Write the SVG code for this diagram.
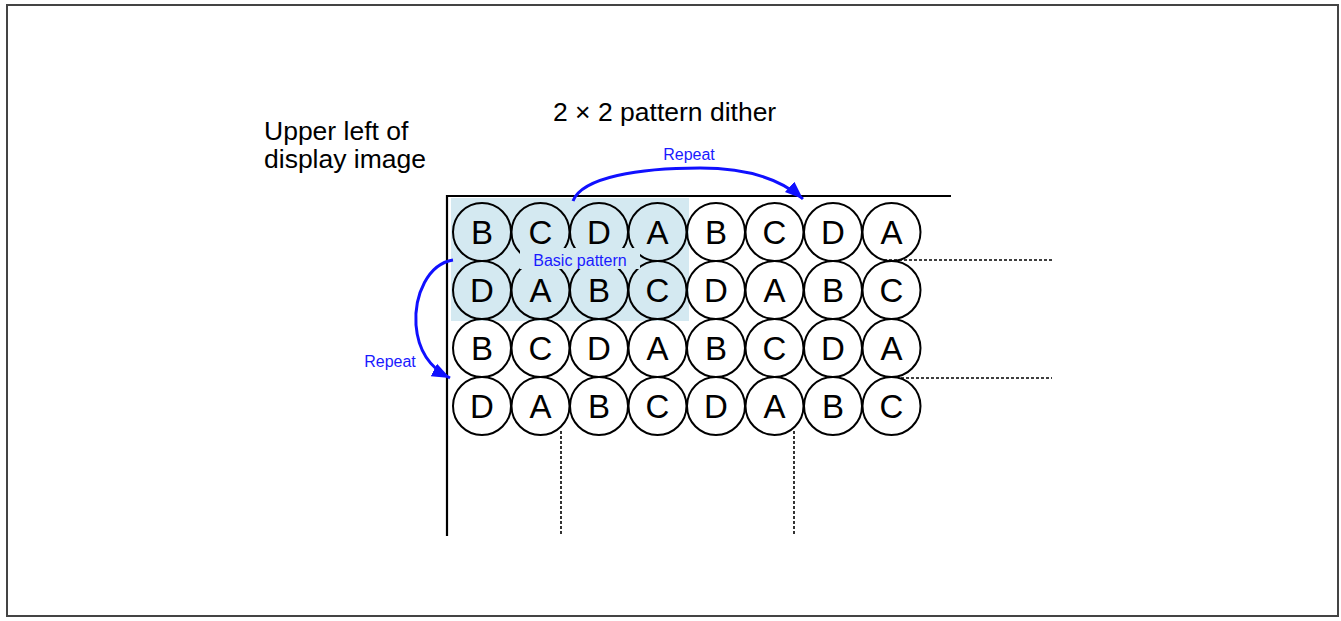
<svg xmlns="http://www.w3.org/2000/svg" width="1341" height="621" viewBox="0 0 1341 621">
<style>
  .lbl{font-family:"Liberation Sans",Arial,sans-serif;fill:#000}
  .big{font-size:26.5px}
  .cell circle{fill:none;stroke:#000;stroke-width:2}
  .cell text{font-family:"Liberation Sans",Arial,sans-serif;font-size:33px;text-anchor:middle;fill:#000}
  .blue{font-family:"Liberation Sans",Arial,sans-serif;font-size:16px;fill:#1a1aff;text-anchor:middle}
  .axis{stroke:#000;stroke-width:2.2;fill:none}
  .dash{stroke:#000;stroke-width:1.6;stroke-dasharray:3 2;fill:none}
  .arr{stroke:#1010ff;stroke-width:3;fill:none;marker-end:url(#ah)}
</style>
<defs>
  <marker id="ah" markerUnits="userSpaceOnUse" markerWidth="20" markerHeight="20" viewBox="0 0 20 20" refX="18" refY="10" orient="auto">
    <path d="M0,3 L18,10 L0,17 Z" fill="#1010ff"/>
  </marker>
</defs>
<rect x="7" y="5" width="1331" height="611" fill="#fff" stroke="#444" stroke-width="2"/>

<g id="title"><text class="lbl big" x="553" y="121">2 × 2 pattern dither</text></g>
<g id="upper-left-label"><text class="lbl big" x="264" y="140">Upper left of</text><text class="lbl big" x="264" y="168">display image</text></g>

<g id="basic-pattern-area"><rect x="451" y="198" width="238" height="123" fill="#d4e9f1"/></g>

<g id="grid" class="cell">
  <g id="r1">
    <circle cx="482" cy="232" r="29"/><text x="482" y="243.5">B</text>
    <circle cx="540.5" cy="232" r="29"/><text x="540.5" y="243.5">C</text>
    <circle cx="599" cy="232" r="29"/><text x="599" y="243.5">D</text>
    <circle cx="657.5" cy="232" r="29"/><text x="657.5" y="243.5">A</text>
    <circle cx="716" cy="232" r="29"/><text x="716" y="243.5">B</text>
    <circle cx="774.5" cy="232" r="29"/><text x="774.5" y="243.5">C</text>
    <circle cx="833" cy="232" r="29"/><text x="833" y="243.5">D</text>
    <circle cx="891.5" cy="232" r="29"/><text x="891.5" y="243.5">A</text>
  </g>
  <g id="r2">
    <circle cx="482" cy="290" r="29"/><text x="482" y="301.5">D</text>
    <circle cx="540.5" cy="290" r="29"/><text x="540.5" y="301.5">A</text>
    <circle cx="599" cy="290" r="29"/><text x="599" y="301.5">B</text>
    <circle cx="657.5" cy="290" r="29"/><text x="657.5" y="301.5">C</text>
    <circle cx="716" cy="290" r="29"/><text x="716" y="301.5">D</text>
    <circle cx="774.5" cy="290" r="29"/><text x="774.5" y="301.5">A</text>
    <circle cx="833" cy="290" r="29"/><text x="833" y="301.5">B</text>
    <circle cx="891.5" cy="290" r="29"/><text x="891.5" y="301.5">C</text>
  </g>
  <g id="r3">
    <circle cx="482" cy="348" r="29"/><text x="482" y="359.5">B</text>
    <circle cx="540.5" cy="348" r="29"/><text x="540.5" y="359.5">C</text>
    <circle cx="599" cy="348" r="29"/><text x="599" y="359.5">D</text>
    <circle cx="657.5" cy="348" r="29"/><text x="657.5" y="359.5">A</text>
    <circle cx="716" cy="348" r="29"/><text x="716" y="359.5">B</text>
    <circle cx="774.5" cy="348" r="29"/><text x="774.5" y="359.5">C</text>
    <circle cx="833" cy="348" r="29"/><text x="833" y="359.5">D</text>
    <circle cx="891.5" cy="348" r="29"/><text x="891.5" y="359.5">A</text>
  </g>
  <g id="r4">
    <circle cx="482" cy="406" r="29"/><text x="482" y="417.5">D</text>
    <circle cx="540.5" cy="406" r="29"/><text x="540.5" y="417.5">A</text>
    <circle cx="599" cy="406" r="29"/><text x="599" y="417.5">B</text>
    <circle cx="657.5" cy="406" r="29"/><text x="657.5" y="417.5">C</text>
    <circle cx="716" cy="406" r="29"/><text x="716" y="417.5">D</text>
    <circle cx="774.5" cy="406" r="29"/><text x="774.5" y="417.5">A</text>
    <circle cx="833" cy="406" r="29"/><text x="833" y="417.5">B</text>
    <circle cx="891.5" cy="406" r="29"/><text x="891.5" y="417.5">C</text>
  </g>
</g>

<g id="basic-pattern-label">
  <rect x="520" y="248" width="120" height="21" fill="#d4e9f1"/>
  <text class="blue" x="580" y="265.5">Basic pattern</text>
</g>

<g id="axes">
  <path class="axis" d="M446,196 H951"/>
  <path class="axis" d="M447,195 V536"/>
</g>

<g id="guides">
  <path class="dash" d="M884,260 H1052"/>
  <path class="dash" d="M901,378 H1052"/>
  <path class="dash" d="M561,431 V535"/>
  <path class="dash" d="M794,431 V535"/>
</g>

<g id="connectors">
  <path class="arr" d="M573,201 C582,177 640,168 700,168 C750,168 782,180 803,199"/>
  <path class="arr" d="M453,260 C428,264 414,295 416,325 C418,350 430,368 450,378"/>
</g>

<g id="repeat-labels">
  <text class="blue" x="689" y="160">Repeat</text>
  <text class="blue" x="390" y="367">Repeat</text>
</g>
</svg>
